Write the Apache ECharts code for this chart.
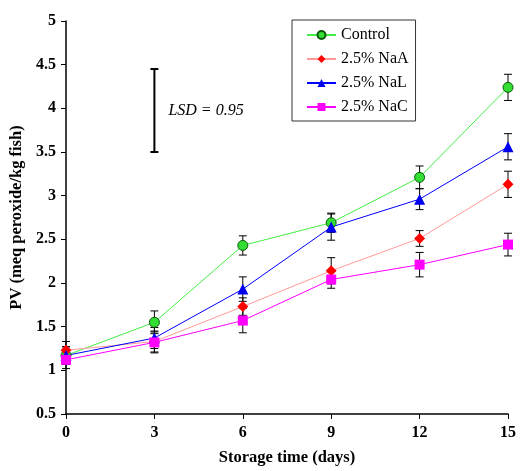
<!DOCTYPE html>
<html>
<head>
<meta charset="utf-8">
<script src="https://cdn.jsdelivr.net/npm/echarts@6/dist/echarts.min.js"></script>
<style>html,body{margin:0;padding:0;background:#fff;}#c{width:527px;height:471px;}</style>
</head>
<body>
<div id="c"></div>
<script>
var days = [0, 3, 6, 9, 12, 15];
var control = [1.17, 1.55, 2.43, 2.69, 3.21, 4.24];
var controlErr = [0.10, 0.13, 0.11, 0.11, 0.13, 0.15];
var naA = [1.23, 1.33, 1.73, 2.14, 2.51, 3.13];
var naAErr = [0.10, 0.12, 0.10, 0.15, 0.09, 0.15];
var naL = [1.17, 1.37, 1.93, 2.64, 2.96, 3.56];
var naLErr = [0.10, 0.12, 0.14, 0.15, 0.12, 0.15];
var naC = [1.12, 1.32, 1.57, 2.04, 2.21, 2.44];
var naCErr = [0.10, 0.12, 0.14, 0.10, 0.14, 0.13];
var seriesNames = ['Control', '2.5% NaA', '2.5% NaL', '2.5% NaC'];
var lsdX = 3, lsdLow = 3.5, lsdHigh = 4.45, lsdLabel = 'LSD = 0.95';

var FONT = '"Liberation Serif", "Times New Roman", serif';

function pairs(v) { return days.map(function (d, i) { return [d, v[i]]; }); }
function errData(v, e) { return days.map(function (d, i) { return [d, v[i] - e[i], v[i] + e[i]]; }); }

function errRender(params, api) {
  var x = api.value(0);
  var lo = api.coord([x, api.value(1)]);
  var hi = api.coord([x, api.value(2)]);
  var hw = 4;
  var st = { stroke: '#000', lineWidth: 1 };
  return {
    type: 'group',
    children: [
      { type: 'line', shape: { x1: lo[0], y1: lo[1], x2: hi[0], y2: hi[1] }, style: st },
      { type: 'line', shape: { x1: lo[0] - hw, y1: lo[1], x2: lo[0] + hw, y2: lo[1] }, style: st },
      { type: 'line', shape: { x1: hi[0] - hw, y1: hi[1], x2: hi[0] + hw, y2: hi[1] }, style: st }
    ]
  };
}

function errSeries(v, e) {
  return { type: 'custom', renderItem: errRender, data: errData(v, e), z: 1, silent: true,
    encode: { x: 0, y: [1, 2] } };
}

var lsdSeries = {
  type: 'custom', z: 1, silent: true,
  data: [[lsdX, lsdLow, lsdHigh]],
  encode: { x: 0, y: [1, 2] },
  renderItem: function (params, api) {
    var x = api.value(0);
    var lo = api.coord([x, api.value(1)]);
    var hi = api.coord([x, api.value(2)]);
    var hw = 4;
    var st = { stroke: '#000', lineWidth: 2 };
    return {
      type: 'group',
      children: [
        { type: 'line', shape: { x1: lo[0], y1: lo[1], x2: hi[0], y2: hi[1] }, style: st },
        { type: 'line', shape: { x1: lo[0] - hw, y1: lo[1], x2: lo[0] + hw, y2: lo[1] }, style: st },
        { type: 'line', shape: { x1: hi[0] - hw, y1: hi[1], x2: hi[0] + hw, y2: hi[1] }, style: st },
        { type: 'text', x: lo[0] + 14, y: (lo[1] + hi[1]) / 2,
          style: { text: lsdLabel, font: 'italic 16px ' + FONT, fill: '#000', verticalAlign: 'middle', align: 'left' } }
      ]
    };
  }
};

var chart = echarts.init(document.getElementById('c'));
chart.setOption({
  animation: false,
  backgroundColor: '#fff',
  grid: { left: 66, right: 19, top: 21, bottom: 55 },
  legend: {
    data: seriesNames,
    orient: 'vertical',
    left: 292, top: 20,
    padding: [7, 7, 6, 14],
    itemGap: 8, itemWidth: 29, itemHeight: 10,
    borderColor: '#333', borderWidth: 1,
    textStyle: { fontFamily: FONT, fontSize: 16, color: '#000', lineHeight: 16 }
  },
  xAxis: {
    type: 'value', min: 0, max: 15, interval: 3,
    axisLine: { lineStyle: { color: '#000', width: 1.5 } },
    axisTick: { inside: false, length: 5, lineStyle: { color: '#000' } },
    splitLine: { show: false },
    axisLabel: { fontFamily: FONT, fontWeight: 'bold', fontSize: 16, color: '#000', margin: 11 },
    name: 'Storage time (days)', nameLocation: 'middle', nameGap: 35,
    nameTextStyle: { fontFamily: FONT, fontWeight: 'bold', fontSize: 16.5, color: '#000' }
  },
  yAxis: {
    type: 'value', min: 0.5, max: 5, interval: 0.5,
    axisLine: { show: true, lineStyle: { color: '#000', width: 1.5 } },
    axisTick: { show: true, inside: false, length: 5, lineStyle: { color: '#000' } },
    splitLine: { show: false },
    axisLabel: { fontFamily: FONT, fontWeight: 'bold', fontSize: 16, color: '#000', margin: 10,
      formatter: function (v) { return String(v); } },
    name: 'PV (meq peroxide/kg fish)', nameLocation: 'middle', nameGap: 32, nameRotate: 90,
    nameTextStyle: { fontFamily: FONT, fontWeight: 'bold', fontSize: 16.5, color: '#000' }
  },
  series: [
    errSeries(control, controlErr),
    errSeries(naA, naAErr),
    errSeries(naL, naLErr),
    errSeries(naC, naCErr),
    lsdSeries,
    { name: seriesNames[0], type: 'line', data: pairs(control), z: 3,
      symbol: 'circle', symbolSize: 10,
      lineStyle: { color: '#44ee44', width: 1 },
      itemStyle: { color: '#33dd33', borderColor: '#0a5a0a', borderWidth: 1 } },
    { name: seriesNames[1], type: 'line', data: pairs(naA), z: 3,
      symbol: 'diamond', symbolSize: 11,
      lineStyle: { color: '#ff9a9a', width: 1 },
      itemStyle: { color: '#ff0000', borderWidth: 0 } },
    { name: seriesNames[2], type: 'line', data: pairs(naL), z: 3,
      symbol: 'triangle', symbolSize: 11,
      lineStyle: { color: '#0000ff', width: 1 },
      itemStyle: { color: '#0000ee', borderWidth: 0 } },
    { name: seriesNames[3], type: 'line', data: pairs(naC), z: 3,
      symbol: 'rect', symbolSize: 10,
      lineStyle: { color: '#ff00ff', width: 1 },
      itemStyle: { color: '#ff00ff', borderWidth: 0 } }
  ]
});
</script>
</body>
</html>
